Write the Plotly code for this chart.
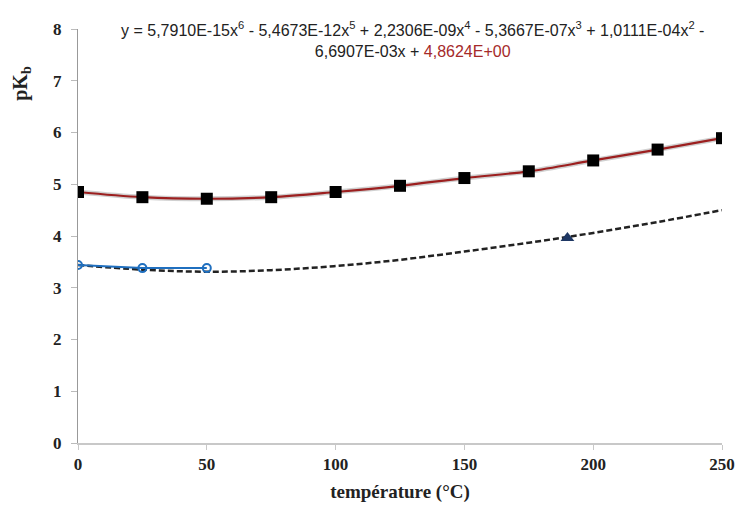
import plotly.graph_objects as go

# Data
temp_sq = [0, 25, 50, 75, 100, 125, 150, 175, 200, 225, 250]
pkb_sq = [4.85, 4.75, 4.72, 4.75, 4.85, 4.97, 5.12, 5.25, 5.46, 5.67, 5.89]

temp_dash = [0, 25, 50, 75, 100, 125, 150, 175, 200, 225, 250]
pkb_dash = [3.44, 3.35, 3.31, 3.34, 3.42, 3.54, 3.70, 3.87, 4.06, 4.27, 4.50]

temp_circ = [0, 25, 50]
pkb_circ = [3.44, 3.38, 3.38]

temp_tri = [190]
pkb_tri = [3.96]

x_ticks = [0, 50, 100, 150, 200, 250]
y_ticks = [0, 1, 2, 3, 4, 5, 6, 7, 8]

fig = go.Figure()

# shadow of trendline
fig.add_trace(go.Scatter(x=temp_sq, y=pkb_sq, mode="lines", line=dict(color="rgba(150,150,150,0.45)", width=5, shape="spline"),
                         hoverinfo="skip", showlegend=False))
fig.add_trace(go.Scatter(x=temp_sq, y=pkb_sq, mode="lines", line=dict(color="#9c1f1f", width=2.2, shape="spline"),
                         showlegend=False))
fig.add_trace(go.Scatter(x=temp_sq, y=pkb_sq, mode="markers", marker=dict(symbol="square", size=12, color="black"),
                         showlegend=False))
fig.add_trace(go.Scatter(x=temp_dash, y=pkb_dash, mode="lines", line=dict(color="#222222", width=2.5, dash="6px,3px", shape="spline"),
                         showlegend=False))
fig.add_trace(go.Scatter(x=temp_circ, y=pkb_circ, mode="lines+markers", line=dict(color="#1f6fbf", width=2),
                         marker=dict(symbol="circle-open", size=8, color="#1f6fbf", line=dict(width=2)),
                         showlegend=False))
fig.add_trace(go.Scatter(x=temp_tri, y=pkb_tri, mode="markers", marker=dict(symbol="triangle-up", size=12, color="#1f3864"),
                         showlegend=False))

tickfont = dict(family="Liberation Serif", size=17, color="#222222")

fig.update_layout(
    width=737, height=509,
    margin=dict(l=78, r=15, t=29, b=66),
    paper_bgcolor="white", plot_bgcolor="white",
    xaxis=dict(range=[0, 250], tickvals=x_ticks, ticktext=[f"<b>{v}</b>" for v in x_ticks],
               showgrid=False, zeroline=False, showline=True, linecolor="#c8c8c8", linewidth=1.5,
               ticks="outside", ticklen=5, tickcolor="#c8c8c8", tickfont=tickfont, automargin=False,
               title=dict(text="<b>température (°C)</b>", font=dict(family="Liberation Serif", size=19, color="#222222"), standoff=12)),
    yaxis=dict(range=[0, 8], tickvals=y_ticks, ticktext=[f"<b>{v}</b>" for v in y_ticks],
               showgrid=False, zeroline=False, showline=True, linecolor="#999999", linewidth=1.2, automargin=False,
               ticks="outside", ticklen=6, tickcolor="#bbbbbb", tickfont=tickfont, ticklabelstandoff=6),
)

fig.add_annotation(xref="paper", yref="paper", x=-0.087, y=0.87, text="<b>pK<sub>b</sub></b>", textangle=-90,
                   showarrow=False, font=dict(family="Liberation Serif", size=20, color="#222222"),
                   xanchor="center", yanchor="middle")

eq = ("y = 5,7910E-15x<sup>6</sup> - 5,4673E-12x<sup>5</sup> + 2,2306E-09x<sup>4</sup> - 5,3667E-07x<sup>3</sup> + 1,0111E-04x<sup>2</sup> -"
      "<br>6,6907E-03x + <span style='color:#a52a2a'>4,8624E+00</span>")
fig.add_annotation(xref="paper", yref="paper", x=0.52, y=1.03, text=eq, showarrow=False, align="center",
                   font=dict(family="Liberation Sans", size=16, color="#222222"), xanchor="center", yanchor="top")

fig.write_html("out.html", config={"displayModeBar": False},
               post_script="document.body.style.margin='0';document.body.style.overflow='hidden';")
